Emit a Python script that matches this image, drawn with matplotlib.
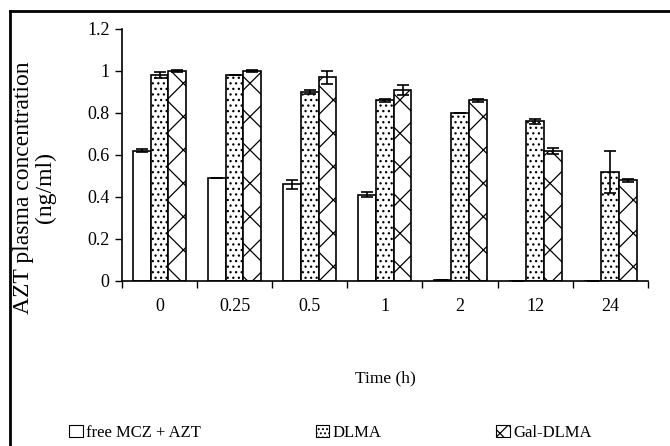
import numpy as np
import matplotlib.pyplot as plt
from matplotlib.lines import Line2D

plt.rcParams['font.family'] = ['Liberation Serif', 'DejaVu Serif']
plt.rcParams['hatch.linewidth'] = 0.9

times = ['0', '0.25', '0.5', '1', '2', '12', '24']
series = ['free MCZ + AZT', 'DLMA', 'Gal-DLMA']
free_vals = [0.62, 0.49, 0.46, 0.41, 0.005, 0.0, 0.0]
free_err = [0.008, 0.0, 0.02, 0.012, 0.0, 0.0, 0.0]
dlma_vals = [0.98, 0.98, 0.90, 0.86, 0.80, 0.76, 0.52]
dlma_err = [0.015, 0.0, 0.008, 0.008, 0.0, 0.012, 0.10]
gal_vals = [1.0, 1.0, 0.97, 0.91, 0.86, 0.62, 0.48]
gal_err = [0.005, 0.005, 0.03, 0.025, 0.008, 0.015, 0.008]

fig = plt.figure(figsize=(6.7, 4.46), dpi=100)
ax = fig.add_axes([0.182, 0.37, 0.785, 0.565])

x = np.arange(len(times))
w = 0.235
styles = [('', free_vals, free_err), ('...', dlma_vals, dlma_err), ('x', gal_vals, gal_err)]
for i, (h, vals, err) in enumerate(styles):
    ax.bar(x + (i - 1) * w, vals, w, yerr=err, color='white', edgecolor='black',
           hatch=h, linewidth=1.2, capsize=4, error_kw=dict(elinewidth=1.2, capthick=1.2),
           label=series[i])

ax.set_xlim(-0.5, len(times) - 0.5)
ax.set_ylim(0, 1.2)
ax.set_yticks([0, 0.2, 0.4, 0.6, 0.8, 1.0, 1.2])
ax.set_yticklabels(['0', '0.2', '0.4', '0.6', '0.8', '1', '1.2'])
ax.set_xticks(x)
ax.set_xticklabels(times)
ax.set_xticks(np.arange(-0.5, len(times)), minor=True)
ax.tick_params(axis='x', which='major', length=0, pad=12, labelsize=13)
ax.tick_params(axis='x', which='minor', length=5, width=1, direction='out')
ax.tick_params(axis='y', length=5, width=1, labelsize=13, pad=4)
for s in ['top', 'right']:
    ax.spines[s].set_visible(False)
for s in ['left', 'bottom']:
    ax.spines[s].set_linewidth(1.2)

ax.set_xlabel('Time (h)', fontsize=12.5, labelpad=40)
ax.set_ylabel('AZT plasma concentration\n(ng/ml)', fontsize=17, linespacing=1.05)
ax.yaxis.set_label_coords(-0.125, 0.37)

legend_hatch = ['', '....', 'xx']
handles = [plt.Rectangle((0, 0), 1, 1, facecolor='white', edgecolor='black', hatch=h, linewidth=0.8)
           for h in legend_hatch]
fig.legend(handles, series, loc='center', bbox_to_anchor=(0.493, 0.03), ncol=3, frameon=False,
           fontsize=12, handlelength=0.8, handleheight=0.8, handletextpad=0.2, columnspacing=6.9)

# outer frame (left and top edges visible)
fig.add_artist(Line2D([0.015, 0.015], [0, 0.975], color='black', linewidth=2, transform=fig.transFigure))
fig.add_artist(Line2D([0.015, 1.0], [0.975, 0.975], color='black', linewidth=2, transform=fig.transFigure))

fig.savefig('out.png', dpi=100)
